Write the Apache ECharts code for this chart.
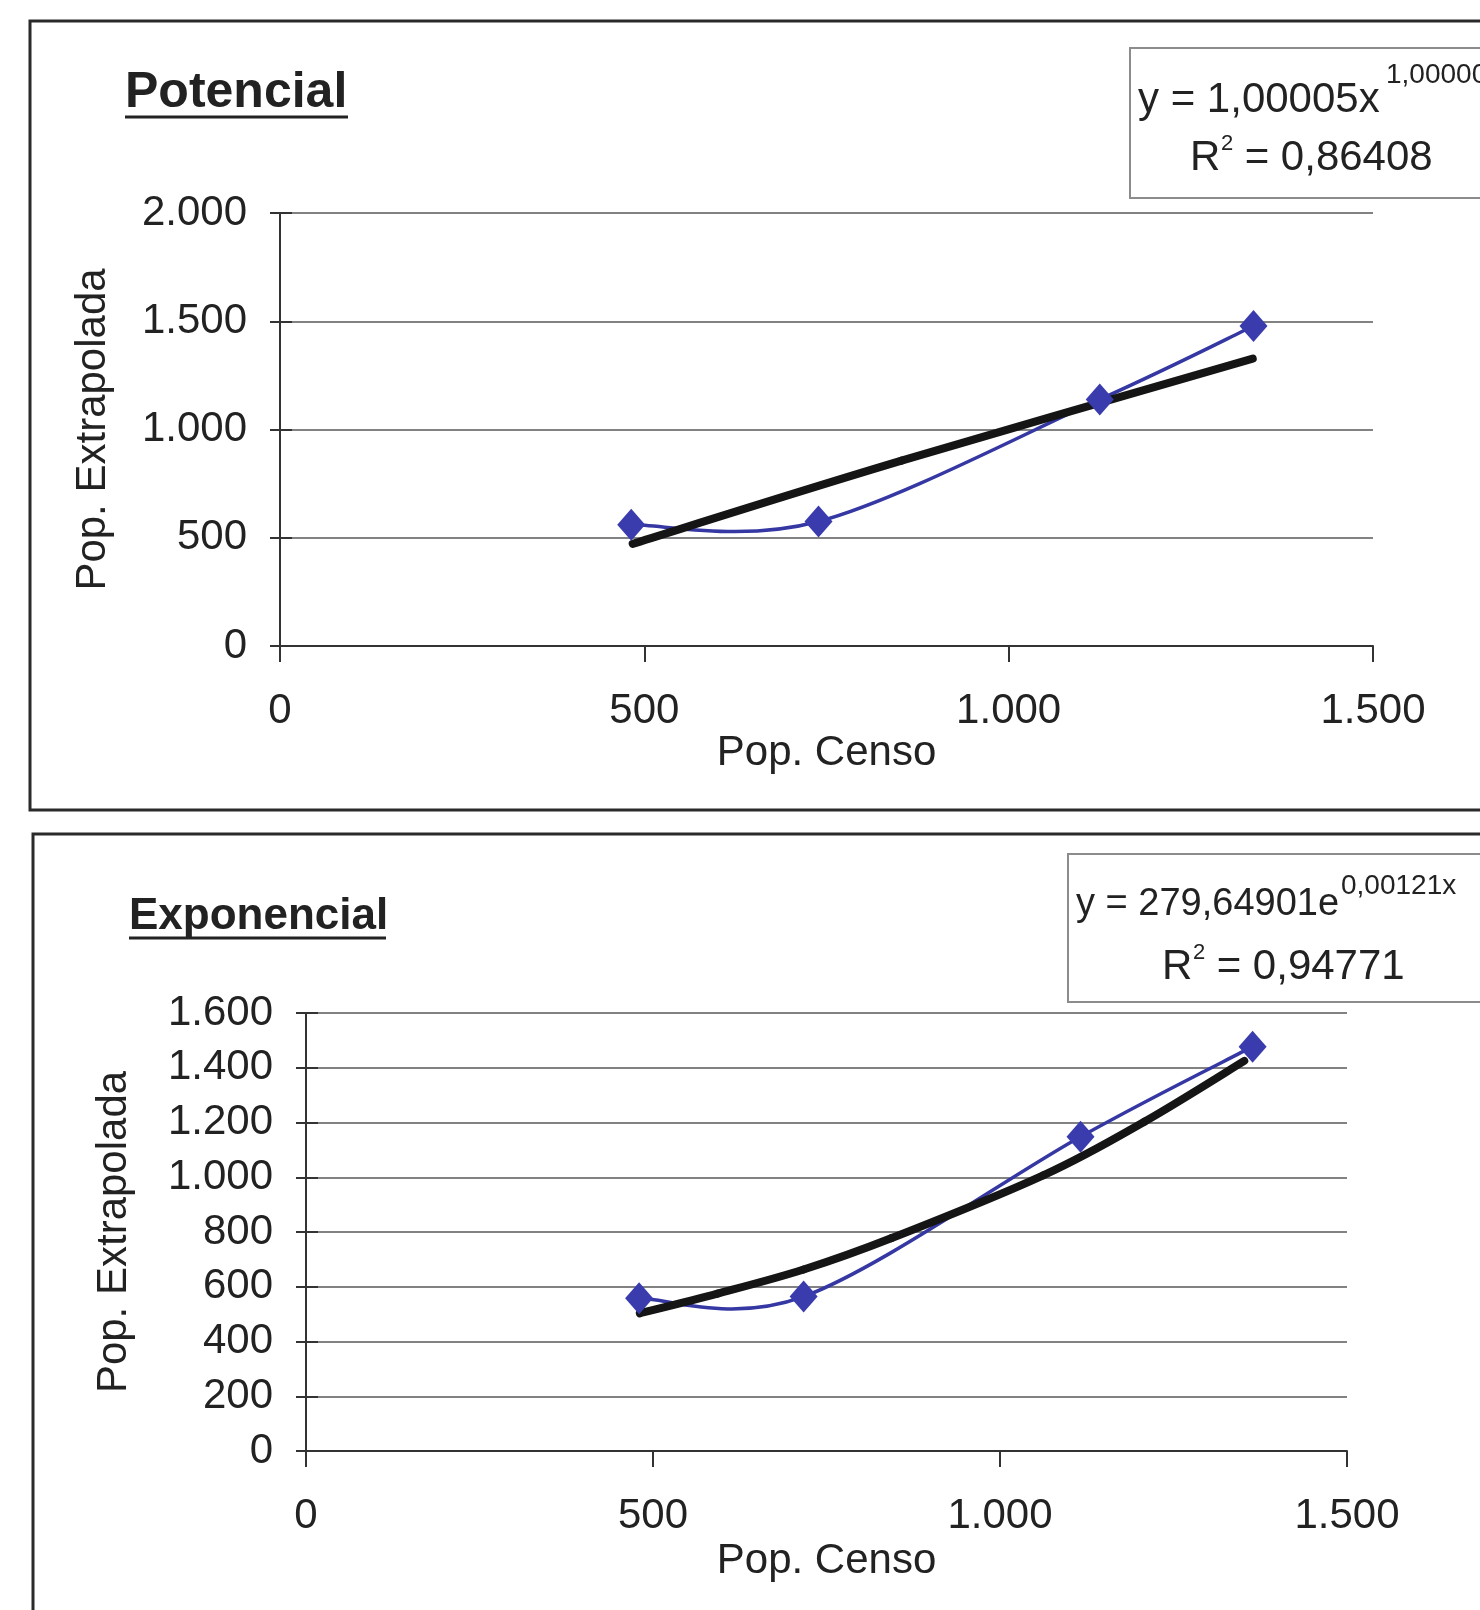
<!DOCTYPE html>
<html>
<head>
<meta charset="utf-8">
<script src="https://cdn.jsdelivr.net/npm/echarts@6/dist/echarts.min.js"></script>
<style>
  html, body { margin: 0; padding: 0; background: #ffffff; }
  #chart { width: 1480px; height: 1610px; }
</style>
</head>
<body>
<div id="chart"></div>
<script>
// Potencial panel: census population vs extrapolated population
const potCenso = [482, 739, 1125, 1336];
const potExtrap = [560, 575, 1139, 1478];
// power trend line (y = 1,00005x^1,00000)
const potTrendCenso = [484, 853, 1335];
const potTrendExtrap = [472, 856, 1327];

// Exponencial panel
const expCenso = [480, 717, 1116, 1364];
const expExtrap = [558, 564, 1148, 1477];
// exponential trend line (y = 279,64901e^0,00121x)
const expTrendCenso = [481, 593, 717, 844, 1063, 1208, 1352];
const expTrendExtrap = [503, 575, 663, 778, 1008, 1203, 1425];

// tick labels (dot as thousands separator)
const xTickLabels = ['0', '500', '1.000', '1.500'];
const potYTickLabels = ['0', '500', '1.000', '1.500', '2.000'];
const expYTickLabels = ['0', '200', '400', '600', '800', '1.000', '1.200', '1.400', '1.600'];

// titles and trend equations
const panelTitles = ['Potencial', 'Exponencial'];
const potEquation = ['y = 1,00005x', '1,00000', 'R', '2', ' = 0,86408'];
const expEquation = ['y = 279,64901e', '0,00121x', 'R', '2', ' = 0,94771'];
const xAxisTitle = 'Pop. Censo';
const yAxisTitle = 'Pop. Extrapolada';

const FONT = '"Liberation Sans", Arial, Helvetica, sans-serif';
const TEXT = '#222222';
const AXIS = '#333333';
const GRID = '#828282';
const BLUE_LINE = '#3537a3';
const BLUE_MARK = '#3a3cae';
const TREND = '#151515';

const pairs = (xs, ys) => xs.map((x, i) => [x, ys[i]]);

function xAxisFor(gridIndex, nameGap) {
  return {
    gridIndex, type: 'value', min: 0, max: 1500, interval: 500,
    axisLine: { show: true, onZero: false, lineStyle: { color: AXIS, width: 2 } },
    axisTick: { show: true, length: 16, lineStyle: { color: AXIS, width: 2 } },
    splitLine: { show: false },
    axisLabel: {
      margin: 44, fontSize: 42, fontFamily: FONT, color: TEXT,
      formatter: v => xTickLabels[Math.round(v / 500)]
    },
    name: xAxisTitle, nameLocation: 'middle', nameGap,
    nameTextStyle: { fontSize: 42, fontFamily: FONT, color: TEXT }
  };
}

function yAxisFor(gridIndex, max, interval, labels, nameGap) {
  return {
    gridIndex, type: 'value', min: 0, max, interval,
    axisLine: { show: true, onZero: false, lineStyle: { color: AXIS, width: 2 } },
    axisTick: { show: true, length: 10, lineStyle: { color: AXIS, width: 2 } },
    splitLine: { show: true, lineStyle: { color: GRID, width: 2 } },
    axisLabel: {
      margin: 33, fontSize: 42, fontFamily: FONT, color: TEXT,
      formatter: v => labels[Math.round(v / interval)]
    },
    name: yAxisTitle, nameLocation: 'middle', nameGap, nameRotate: 90,
    nameTextStyle: { fontSize: 42, fontFamily: FONT, color: TEXT }
  };
}

// second y axis per grid, only for the inner half of the crossing ticks
function innerTicksFor(gridIndex, max, interval) {
  return {
    gridIndex, type: 'value', min: 0, max, interval, position: 'left',
    axisLine: { show: false },
    axisTick: { show: true, inside: true, length: 12, lineStyle: { color: AXIS, width: 2 } },
    axisLabel: { show: false },
    splitLine: { show: false }
  };
}

// Smoothed line drawn segment by segment as cubic Bezier curves
// (Catmull-Rom style control points, the way spreadsheet "smoothed lines" look).
function smoothSegment(color, width) {
  return function (params, api) {
    const i = params.dataIndexInside;
    const n = params.dataInsideLength;
    if (i >= n - 1) return null;
    const pt = k => api.coord([api.value(0, k), api.value(1, k)]);
    const p0 = pt(Math.max(i - 1, 0));
    const p1 = pt(i);
    const p2 = pt(i + 1);
    const p3 = pt(Math.min(i + 2, n - 1));
    return {
      type: 'bezierCurve',
      shape: {
        x1: p1[0], y1: p1[1],
        cpx1: p1[0] + (p2[0] - p0[0]) / 6, cpy1: p1[1] + (p2[1] - p0[1]) / 6,
        cpx2: p2[0] - (p3[0] - p1[0]) / 6, cpy2: p2[1] - (p3[1] - p1[1]) / 6,
        x2: p2[0], y2: p2[1]
      },
      style: { fill: 'none', stroke: color, lineWidth: width, lineCap: 'round' }
    };
  };
}

function seriesFor(axisIndex, censo, extrap, trendCenso, trendExtrap) {
  return [
    {
      type: 'custom', xAxisIndex: axisIndex, yAxisIndex: axisIndex * 2,
      data: pairs(censo, extrap), z: 2, silent: true,
      renderItem: smoothSegment(BLUE_LINE, 3.5)
    },
    {
      type: 'custom', xAxisIndex: axisIndex, yAxisIndex: axisIndex * 2,
      data: pairs(trendCenso, trendExtrap), z: 3, silent: true,
      renderItem: smoothSegment(TREND, 8)
    },
    {
      type: 'scatter', xAxisIndex: axisIndex, yAxisIndex: axisIndex * 2,
      data: pairs(censo, extrap), symbol: 'diamond', symbolSize: [28, 32], z: 4,
      itemStyle: { color: BLUE_MARK, opacity: 1 }, silent: true
    }
  ];
}

function textEl(text, x, y, size, weight) {
  return {
    type: 'text', x, y, z: 10,
    style: {
      text, fill: TEXT, align: 'left', verticalAlign: 'middle',
      font: (weight || 'normal') + ' ' + size + 'px ' + FONT
    }
  };
}

function equationEls(eq, box, line1, line1Size, sup, r) {
  return [
    {
      type: 'rect', z: 9,
      shape: { x: box[0], y: box[1], width: box[2], height: box[3] },
      style: { fill: '#ffffff', stroke: '#8c8c8c', lineWidth: 2 }
    },
    textEl(eq[0], line1[0], line1[1], line1Size),
    textEl(eq[1], sup[0], sup[1], 28),
    textEl(eq[2], r[0], r[1], 42),
    textEl(eq[3], r[0] + 31, r[1] - 14, 22),
    textEl(eq[4], r[0] + 43, r[1], 42)
  ];
}

const chart = echarts.init(document.getElementById('chart'), null, { renderer: 'canvas' });

chart.setOption({
  backgroundColor: '#ffffff',
  animation: false,
  grid: [
    { left: 280, top: 213, width: 1093, height: 433, containLabel: false },
    { left: 306, top: 1013, width: 1041, height: 438, containLabel: false }
  ],
  xAxis: [xAxisFor(0, 74), xAxisFor(1, 89)],
  yAxis: [
    yAxisFor(0, 2000, 500, potYTickLabels, 166),
    innerTicksFor(0, 2000, 500),
    yAxisFor(1, 1600, 200, expYTickLabels, 171),
    innerTicksFor(1, 1600, 200)
  ],
  series: [
    ...seriesFor(0, potCenso, potExtrap, potTrendCenso, potTrendExtrap),
    ...seriesFor(1, expCenso, expExtrap, expTrendCenso, expTrendExtrap)
  ],
  graphic: [
    // panel frames
    {
      type: 'rect', z: 1, silent: true,
      shape: { x: 30, y: 21, width: 1480, height: 789 },
      style: { fill: 'none', stroke: '#2a2a2a', lineWidth: 3 }
    },
    {
      type: 'rect', z: 1, silent: true,
      shape: { x: 33, y: 834, width: 1480, height: 820 },
      style: { fill: 'none', stroke: '#2a2a2a', lineWidth: 3 }
    },
    // panel titles, underlined
    textEl(panelTitles[0], 125, 93, 50, 'bold'),
    {
      type: 'line', z: 10,
      shape: { x1: 125, y1: 117, x2: 348, y2: 117 },
      style: { stroke: TEXT, lineWidth: 3 }
    },
    textEl(panelTitles[1], 129, 917, 44, 'bold'),
    {
      type: 'line', z: 10,
      shape: { x1: 129, y1: 938, x2: 386, y2: 938 },
      style: { stroke: TEXT, lineWidth: 3 }
    },
    // trend equations
    ...equationEls(potEquation, [1130, 48, 400, 150], [1138, 100], 42, [1386, 75], [1190, 158]),
    ...equationEls(expEquation, [1068, 854, 450, 148], [1076, 905], 38, [1341, 886], [1162, 967])
  ]
});
</script>
</body>
</html>
